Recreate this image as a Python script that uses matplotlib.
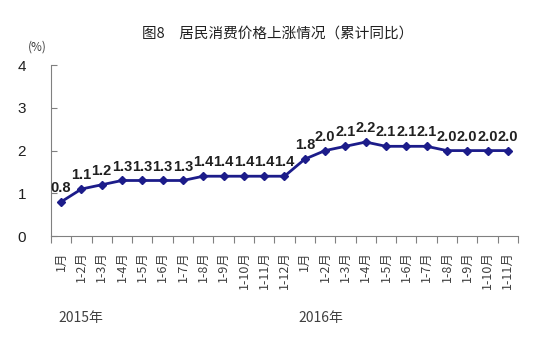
import matplotlib
matplotlib.use("Agg")
import matplotlib.pyplot as plt

plt.rcParams['font.family'] = ['Noto Sans CJK SC', 'DejaVu Sans']

months = ["1月", "1-2月", "1-3月", "1-4月", "1-5月", "1-6月", "1-7月", "1-8月",
          "1-9月", "1-10月", "1-11月", "1-12月",
          "1月", "1-2月", "1-3月", "1-4月", "1-5月", "1-6月", "1-7月", "1-8月",
          "1-9月", "1-10月", "1-11月"]
cpi = [0.8, 1.1, 1.2, 1.3, 1.3, 1.3, 1.3, 1.4, 1.4, 1.4, 1.4, 1.4,
       1.8, 2.0, 2.1, 2.2, 2.1, 2.1, 2.1, 2.0, 2.0, 2.0, 2.0]
years = ["2015年", "2016年"]

navy = "#1c1c8a"
grey = "#808080"

fig = plt.figure(figsize=(5.54, 3.56), dpi=100)
ax = fig.add_axes([0.092, 0.337, 0.843, 0.48])

x = list(range(len(cpi)))
ax.plot(x, cpi, color=navy, lw=2, marker='D', ms=4.5, mfc=navy, mec=navy)
for xi, v in zip(x, cpi):
    ax.annotate("%.1f" % v, (xi, v), xytext=(0, 5), textcoords='offset points',
                ha='center', va='bottom', fontsize=10.5, fontweight='bold',
                family=['Liberation Sans', 'DejaVu Sans'], color='#202020')

ax.set_xlim(-0.5, len(cpi) - 0.5)
ax.set_ylim(0, 4)
ax.set_yticks([0, 1, 2, 3, 4])
ax.set_yticklabels(["0", "1", "2", "3", "4"], family=['Liberation Sans', 'DejaVu Sans'])
ax.tick_params(axis='y', direction='in', length=4, color=grey, pad=18,
               labelsize=11, labelcolor='#202020')

# ticks at category boundaries, labels at category centres
ax.set_xticks([i - 0.5 for i in range(len(cpi) + 1)])
ax.set_xticklabels([])
ax.set_xticks(x, minor=True)
ax.set_xticklabels(months, minor=True, rotation=90, va='top', ha='center')
ax.tick_params(axis='x', which='major', direction='out', length=5, color=grey)
ax.tick_params(axis='x', which='minor', length=0, pad=11, labelsize=9,
               labelcolor='#404040')

for s in ['top', 'right']:
    ax.spines[s].set_visible(False)
for s in ['left', 'bottom']:
    ax.spines[s].set_color(grey)

for name, xpos in zip(years, [0.105, 0.538]):
    fig.text(xpos, 0.107, name, fontsize=10, color='#404040', va='center', ha='left')

fig.text(0.05, 0.868, "(%)", fontsize=8.5, color='#404040', ha='left', va='center')
fig.text(0.502, 0.905, "图8　居民消费价格上涨情况（累计同比）", fontsize=10.5,
         color='#202020', ha='center', va='center')

fig.savefig("out.png", dpi=100)
